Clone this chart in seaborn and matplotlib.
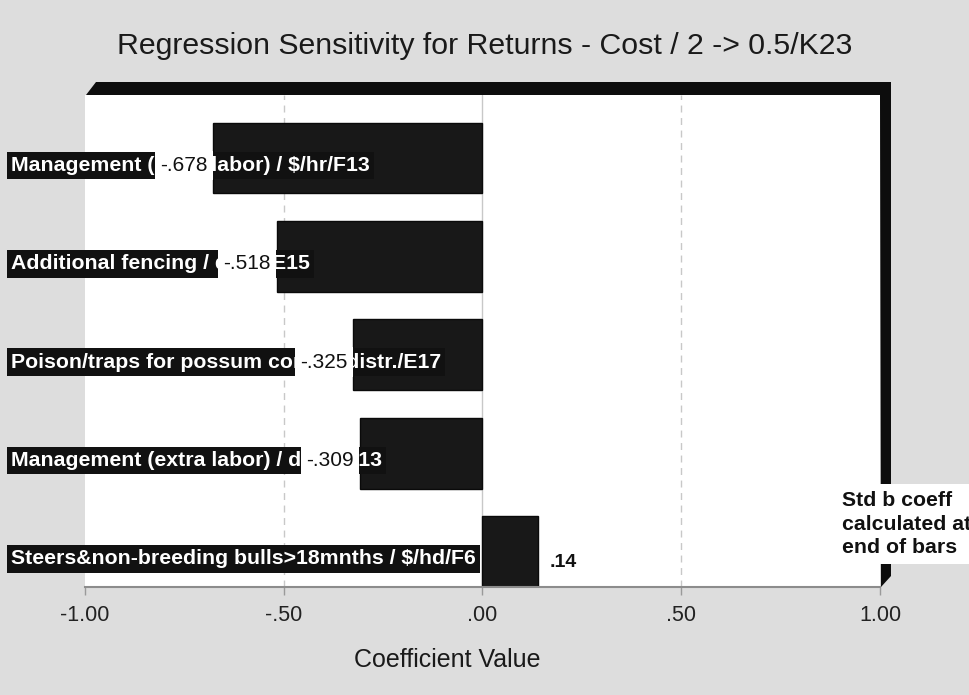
import matplotlib
matplotlib.use("Agg")
import matplotlib.pyplot as plt
import matplotlib.transforms as mtransforms
from matplotlib.patches import Polygon
import seaborn as sns
import pandas as pd

# ---- data ----
categories = [
    "Management (extra labor) / $/hr/F13",
    "Additional fencing / distr./E15",
    "Poison/traps for possum control distr./E17",
    "Management (extra labor) / distr./F13",
    "Steers&non-breeding bulls>18mnths / $/hd/F6",
]
coefficients = [-0.678, -0.518, -0.325, -0.309, 0.14]
value_labels = ["-.678", "-.518", "-.325", "-.309", ".14"]
x_ticks = [-1.0, -0.5, 0.0, 0.5, 1.0]
x_tick_labels = ["-1.00", "-.50", ".00", ".50", "1.00"]
title = "Regression Sensitivity for Returns - Cost / 2 -> 0.5/K23"
x_label = "Coefficient Value"
note = "Std b coeff\ncalculated at\nend of bars"

df = pd.DataFrame({"category": categories, "coef": coefficients})

sns.set_theme(style="white")
plt.rcParams["font.family"] = ["Liberation Sans", "DejaVu Sans"]

W, H = 970, 695
BG = "#dddddd"
fig = plt.figure(figsize=(W / 100, H / 100), dpi=100, facecolor=BG)

L, R, T, B = 85, 880, 95, 587
ax = fig.add_axes([L / W, 1 - B / H, (R - L) / W, (B - T) / H])
ax.set_facecolor("white")

# grid lines
for xv in x_ticks[1:-1]:
    ax.axvline(xv, color="#c8c8c8", lw=1.0,
               ls="-" if xv == 0 else (0, (5, 4)), zorder=0.5)

sns.barplot(data=df, x="coef", y="category", order=categories, orient="h",
            color="#181818", width=0.72, saturation=1, ax=ax, zorder=2,
            edgecolor="#0a0a0a", linewidth=1)

ax.set_xlim(-1, 1)
ax.set_ylim(len(categories) - 0.64, -0.64)
ax.set_xticks(x_ticks)
ax.set_xticklabels(x_tick_labels, fontsize=15.5, color="#222222")
ax.set_yticks([])
ax.set_ylabel("")
ax.set_xlabel("")
ax.tick_params(axis="x", direction="out", length=6, width=1, color="#9a9a9a",
               pad=7, bottom=True)
for s in ["left", "top", "right"]:
    ax.spines[s].set_visible(False)
ax.spines["bottom"].set_color("#8c8c8c")
ax.spines["bottom"].set_linewidth(1.5)

# category labels: white bold text on black boxes at the left
blend = mtransforms.blended_transform_factory(fig.transFigure, ax.transData)
for i, lab in enumerate(categories):
    ax.text(11 / W, i + 0.075, lab, transform=blend, ha="left", va="center",
            fontsize=15.3, fontweight="bold", color="white", parse_math=False,
            bbox=dict(boxstyle="square,pad=0.2", fc="#111111", ec="none"),
            zorder=3, clip_on=False)

# value labels at bar ends
for i, (v, t) in enumerate(zip(coefficients, value_labels)):
    if v < 0:
        ax.annotate(t, (v, i + 0.075), xytext=(-4, 0),
                    textcoords="offset points", ha="right", va="center",
                    fontsize=15, color="#111111", zorder=4,
                    bbox=dict(boxstyle="square,pad=0.25", fc="white",
                              ec="none"))
    else:
        ax.text(v + 0.03, i + 0.11, t, ha="left", va="center", fontsize=14,
                fontweight="bold", color="#111111", zorder=4)

# 3-D style frame (top and right black bands)
def px(x, y):
    return ((x - L) / (R - L), (B - y) / (B - T))

frame = Polygon([px(86, 95), px(96, 82), px(891, 82), px(891, 576),
                 px(881, 587), px(880, 95)], closed=True, fc="#0d0d0d",
                ec="none", transform=ax.transAxes, clip_on=False, zorder=5)
ax.add_patch(frame)

# note at the right
fig.text(842 / W, 1 - 524 / H, note, ha="left", va="center", fontsize=15.3,
         fontweight="bold", color="#111111", linespacing=1.32, zorder=10,
         bbox=dict(boxstyle="square,pad=0.3", fc="white", ec="none"))

# title and x label
fig.text(485 / W, 1 - 46 / H, title, ha="center", va="center", fontsize=21.8,
         color="#1a1a1a")
fig.text(447 / W, 1 - 660 / H, x_label, ha="center", va="center",
         fontsize=18, color="#1a1a1a")

fig.savefig("out.png", dpi=100, facecolor=BG)
